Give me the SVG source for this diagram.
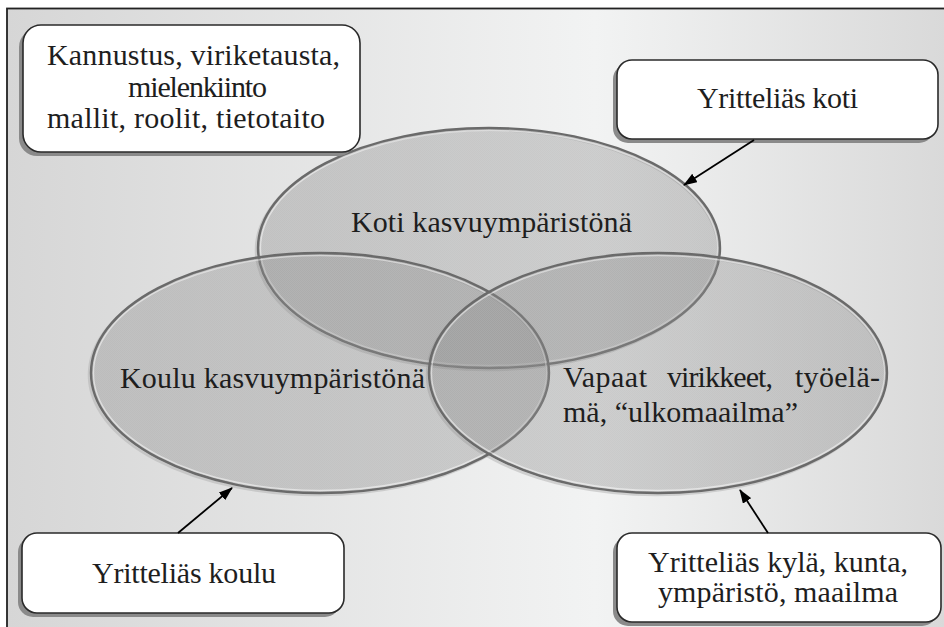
<svg xmlns="http://www.w3.org/2000/svg" width="944" height="627" viewBox="0 0 944 627">
  <defs>
    <linearGradient id="bg" x1="0" y1="0" x2="1" y2="0">
      <stop offset="0" stop-color="#d6d6d6"/>
      <stop offset="0.6" stop-color="#f2f3f3"/>
      <stop offset="1" stop-color="#d6d6d6"/>
    </linearGradient>
    <pattern id="grain" width="2" height="2" patternUnits="userSpaceOnUse">
      <rect width="2" height="2" fill="#949494"/>
      <rect width="1" height="1" fill="#8a8a8a"/>
      <rect x="1" y="1" width="1" height="1" fill="#8a8a8a"/>
    </pattern>
    <marker id="arrow" viewBox="0 0 14 10" refX="13" refY="5" markerWidth="14" markerHeight="10" markerUnits="userSpaceOnUse" orient="auto">
      <path d="M0,0 L14,5 L0,10 Z" fill="#000"/>
    </marker>
  </defs>
  <style>
    .t { font-family: "Liberation Serif", "DejaVu Serif", serif; font-size: 30px; fill: #1e1e1e; }
    .box { fill: #ffffff; stroke: #2a2a2a; stroke-width: 1.6; }
    .shadow { fill: #8a8a8a; }
    .ring-shadow { fill: none; stroke: #b0b0b0; stroke-width: 2.5; opacity: 0.5; }
    .ring { fill: url(#grain); fill-opacity: 0.38; stroke: #6a6a6a; stroke-width: 2.4; }
    .ring-hi { fill: none; stroke: #ffffff; stroke-width: 1.3; opacity: 0.5; }
    .link { stroke: #000; stroke-width: 1.8; fill: none; marker-end: url(#arrow); }
  </style>

  <!-- page background and frame -->
  <rect x="0" y="0" width="944" height="627" fill="#ffffff"/>
  <rect x="7" y="8.5" width="980" height="700" fill="url(#bg)" stroke="#222" stroke-width="1.8"/>

  <!-- soft outline shadows of the three circles -->
  <g id="ring-shadows">
    <ellipse class="ring-shadow" cx="487" cy="250" rx="231" ry="120"/>
    <ellipse class="ring-shadow" cx="318" cy="375" rx="229" ry="120"/>
    <ellipse class="ring-shadow" cx="656" cy="375" rx="229" ry="120"/>
  </g>

  <g id="koti">
    <ellipse class="ring" cx="489" cy="248" rx="231" ry="120"/>
    <ellipse class="ring-hi" cx="489" cy="248" rx="228.5" ry="117.5"/>
  </g>
  <g id="koulu">
    <ellipse class="ring" cx="320" cy="373" rx="229" ry="120"/>
    <ellipse class="ring-hi" cx="320" cy="373" rx="226.5" ry="117.5"/>
  </g>
  <g id="vapaat">
    <ellipse class="ring" cx="658" cy="373" rx="229" ry="120"/>
    <ellipse class="ring-hi" cx="658" cy="373" rx="226.5" ry="117.5"/>
  </g>

  <!-- circle labels -->
  <g id="labels">
    <text class="t" x="351" y="232" textLength="281" lengthAdjust="spacing">Koti kasvuympäristönä</text>
    <text class="t" x="120" y="388" textLength="305" lengthAdjust="spacing">Koulu kasvuympäristönä</text>
    <text class="t" x="563" y="387" textLength="84" lengthAdjust="spacing">Vapaat</text>
    <text class="t" x="667" y="387" textLength="106" lengthAdjust="spacing">virikkeet,</text>
    <text class="t" x="795" y="387" textLength="85" lengthAdjust="spacing">työelä-</text>
    <text class="t" x="563" y="422" textLength="235" lengthAdjust="spacing">mä, “ulkomaailma”</text>
  </g>

  <g id="kannustus">
    <rect class="shadow" x="19" y="29" width="337" height="127" rx="18"/>
    <rect class="box" x="23" y="25" width="337" height="127" rx="18"/>
    <text class="t" x="47" y="65" textLength="293" lengthAdjust="spacing">Kannustus, viriketausta,</text>
    <text class="t" x="128" y="97" textLength="139" lengthAdjust="spacing">mielenkiinto</text>
    <text class="t" x="47" y="128" textLength="278" lengthAdjust="spacing">mallit, roolit, tietotaito</text>
  </g>

  <g id="yritteliaskoti">
    <rect class="shadow" x="613" y="64" width="321" height="79" rx="15"/>
    <rect class="box" x="617" y="60" width="321" height="79" rx="15"/>
    <text class="t" x="697" y="108" textLength="161" lengthAdjust="spacing">Yritteliäs koti</text>
  </g>

  <g id="yritteliaskoulu">
    <rect class="shadow" x="18" y="537" width="322" height="80" rx="15"/>
    <rect class="box" x="22" y="533" width="322" height="80" rx="15"/>
    <text class="t" x="92" y="583" textLength="184" lengthAdjust="spacing">Yritteliäs koulu</text>
  </g>

  <g id="yritteliaskyla">
    <rect class="shadow" x="613" y="537" width="324" height="89" rx="15"/>
    <rect class="box" x="617" y="533" width="324" height="89" rx="15"/>
    <text class="t" x="648" y="572" textLength="260" lengthAdjust="spacing">Yritteliäs kylä, kunta,</text>
    <text class="t" x="658" y="602" textLength="240" lengthAdjust="spacing">ympäristö, maailma</text>
  </g>

  <g id="connectors">
    <line class="link" x1="754" y1="140" x2="684" y2="185"/>
    <line class="link" x1="178" y1="533" x2="232" y2="488"/>
    <line class="link" x1="768" y1="533" x2="740" y2="490"/>
  </g>
</svg>
